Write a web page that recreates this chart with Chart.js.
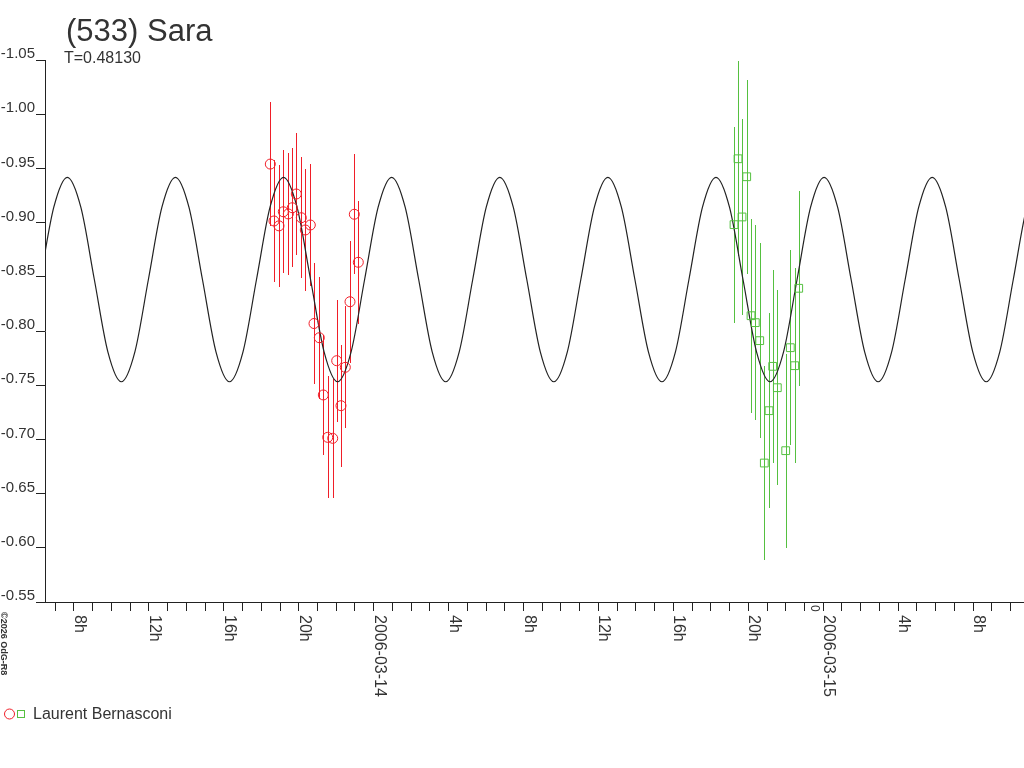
<!DOCTYPE html>
<html>
<head>
<meta charset="utf-8">
<title>(533) Sara</title>
<script src="https://cdn.jsdelivr.net/npm/chart.js@4.4.1/dist/chart.umd.min.js"></script>
<style>
  body { margin: 0; background: #fff; }
  #wrap { width: 1024px; height: 768px; }
</style>
</head>
<body>
<div id="wrap"><canvas id="myChart" width="1024" height="768"></canvas></div>
<script>
// hours counted from 2006-03-13 00:00
const title = "(533) Sara";
const subtitle = "T=0.48130";
const observer = "Laurent Bernasconi";
const copyright = "\u00a92026 OdG-R8";

const yTicks = [-1.05, -1.0, -0.95, -0.9, -0.85, -0.8, -0.75, -0.7, -0.65, -0.6, -0.55];
const majorHours = [8, 12, 16, 20, 24, 28, 32, 36, 40, 44, 48, 52, 56];
const hourLabels = ["8h", "12h", "16h", "20h", "2006-03-14", "4h", "8h", "12h", "16h", "20h", "2006-03-15", "4h", "8h"];

const redHours = [18.481, 18.678, 18.945, 19.175, 19.442, 19.655, 19.869, 20.136, 20.35, 20.617, 20.814,
  21.097, 21.311, 21.546, 21.812, 22.026, 22.255, 22.485, 22.736, 22.966, 23.179];
const redMags = [-0.954, -0.9015, -0.897, -0.91, -0.908, -0.9137, -0.9264, -0.9045, -0.8932, -0.8978, -0.8069,
  -0.7938, -0.741, -0.7019, -0.701, -0.7726, -0.7311, -0.7665, -0.827, -0.9077, -0.8634];
const redErr = [0.057, 0.0566, 0.0563, 0.0567, 0.0563, 0.0551, 0.0561, 0.056, 0.0561, 0.056, 0.0561,
  0.0563, 0.0554, 0.0563, 0.055, 0.0561, 0.0563, 0.0562, 0.0563, 0.0554, 0.0566];

const greenHours = [43.238, 43.452, 43.665, 43.916, 44.146, 44.375, 44.61, 44.856, 45.107, 45.304,
  45.55, 45.998, 46.244, 46.479, 46.692];
const greenMags = [-0.8981, -0.9589, -0.9052, -0.9423, -0.8141, -0.8077, -0.7911, -0.6782, -0.7265, -0.7674,
  -0.7477, -0.6896, -0.7846, -0.768, -0.8394];
const greenErr = [0.0904, 0.0901, 0.0904, 0.0895, 0.0896, 0.0901, 0.09, 0.0895, 0.0899, 0.0892,
  0.0899, 0.0895, 0.0898, 0.0897, 0.0901];

// fitted lightcurve
const curveHours = [6.2, 6.922,
  7.643, 8.365, 9.086, 9.808, 10.529, 11.251, 11.972, 12.694,
  13.415, 14.137, 14.858, 15.58, 16.301, 17.023, 17.744, 18.466,
  19.187, 19.909, 20.63, 21.352, 22.073, 22.795, 23.516, 24.238,
  24.959, 25.681, 26.402, 27.124, 27.845, 28.567, 29.288, 30.01,
  30.731, 31.453, 32.174, 32.896, 33.617, 34.339, 35.06, 35.782,
  36.503, 37.225, 37.946, 38.668, 39.389, 40.111, 40.832, 41.554,
  42.275, 42.997, 43.718, 44.44, 45.161, 45.883, 46.604, 47.326,
  48.047, 48.769, 49.49, 50.212, 50.933, 51.655, 52.376, 53.098,
  53.819, 54.541, 55.262, 55.984, 56.705, 57.427, 58.148, 58.87,
  59.591];
const curveMags = [-0.8475, -0.9142,
  -0.9418, -0.9142, -0.8475, -0.7808, -0.7532, -0.7808, -0.8475, -0.9142,
  -0.9418, -0.9142, -0.8475, -0.7808, -0.7532, -0.7808, -0.8475, -0.9142,
  -0.9418, -0.9142, -0.8475, -0.7808, -0.7532, -0.7808, -0.8475, -0.9142,
  -0.9418, -0.9142, -0.8475, -0.7808, -0.7532, -0.7808, -0.8475, -0.9142,
  -0.9418, -0.9142, -0.8475, -0.7808, -0.7532, -0.7808, -0.8475, -0.9142,
  -0.9418, -0.9142, -0.8475, -0.7808, -0.7532, -0.7808, -0.8475, -0.9142,
  -0.9418, -0.9142, -0.8475, -0.7808, -0.7532, -0.7808, -0.8475, -0.9142,
  -0.9418, -0.9142, -0.8475, -0.7808, -0.7532, -0.7808, -0.8475, -0.9142,
  -0.9418, -0.9142, -0.8475, -0.7808, -0.7532, -0.7808, -0.8475, -0.9142,
  -0.9418];

const fontName = "'Liberation Sans', Arial, sans-serif";
const textColor = "#333";
const axisColor = "#222";
const redColor = "#f01e28";
const greenColor = "#55c040";

const minorHours = [];
for (let h = 7; h <= 58; h++) minorHours.push(h);

const toPoints = (xs, ys) => xs.map((x, i) => ({ x: x, y: ys[i] }));

const drawBars = (chart, xs, ys, errs, color) => {
  const { ctx, scales } = chart;
  ctx.strokeStyle = color;
  ctx.lineWidth = 1;
  for (let i = 0; i < xs.length; i++) {
    const px = Math.round(scales.x.getPixelForValue(xs[i])) + 0.5;
    ctx.beginPath();
    ctx.moveTo(px, Math.round(scales.y.getPixelForValue(ys[i] - errs[i])));
    ctx.lineTo(px, Math.round(scales.y.getPixelForValue(ys[i] + errs[i])));
    ctx.stroke();
  }
};

const errorBars = {
  id: "errorBars",
  beforeDatasetsDraw(chart) {
    const { ctx, chartArea } = chart;
    ctx.save();
    ctx.beginPath();
    ctx.rect(chartArea.left, chartArea.top, chartArea.right - chartArea.left, chartArea.bottom - chartArea.top);
    ctx.clip();
    drawBars(chart, redHours, redMags, redErr, redColor);
    drawBars(chart, greenHours, greenMags, greenErr, greenColor);
    ctx.restore();
  },
};

const decorations = {
  id: "decorations",
  afterDraw(chart) {
    const { ctx, chartArea, scales } = chart;
    ctx.save();
    ctx.fillStyle = textColor;
    ctx.textAlign = "left";
    ctx.textBaseline = "alphabetic";

    ctx.font = "31px " + fontName;
    ctx.fillText(title, 66, 41);
    ctx.font = "16px " + fontName;
    ctx.fillText(subtitle, 64, 63);

    // hour labels, turned to read downwards
    for (let i = 0; i < majorHours.length; i++) {
      const px = Math.round(scales.x.getPixelForValue(majorHours[i]));
      ctx.save();
      ctx.translate(px + 1, chartArea.bottom + 13);
      ctx.rotate(Math.PI / 2);
      ctx.fillText(hourLabels[i], 0, 0);
      ctx.restore();
    }

    ctx.save();
    ctx.font = "12px " + fontName;
    ctx.translate(811, 605);
    ctx.rotate(Math.PI / 2);
    ctx.fillText("0", 0, 0);
    ctx.restore();

    ctx.save();
    ctx.font = "bold 9px " + fontName;
    ctx.translate(1, 612);
    ctx.rotate(Math.PI / 2);
    ctx.fillText(copyright, 0, 0);
    ctx.restore();

    // legend
    ctx.lineWidth = 1;
    ctx.strokeStyle = redColor;
    ctx.beginPath();
    ctx.arc(9.5, 714, 5, 0, Math.PI * 2);
    ctx.stroke();
    ctx.strokeStyle = greenColor;
    ctx.strokeRect(17.5, 710.5, 7, 7);
    ctx.font = "16px " + fontName;
    ctx.fillText(observer, 33, 719);
    ctx.restore();
  },
};

new Chart(document.getElementById("myChart").getContext("2d"), {
  type: "scatter",
  data: {
    datasets: [
      {
        label: observer,
        data: toPoints(redHours, redMags),
        pointStyle: "circle",
        pointRadius: 5,
        pointBorderWidth: 1,
        pointBorderColor: redColor,
        pointBackgroundColor: "rgba(0,0,0,0)",
      },
      {
        label: observer,
        data: toPoints(greenHours, greenMags),
        pointStyle: "rect",
        pointRadius: 5.5,
        pointBorderWidth: 1,
        pointBorderColor: greenColor,
        pointBackgroundColor: "rgba(0,0,0,0)",
      },
      {
        label: "fit",
        data: toPoints(curveHours, curveMags),
        showLine: true,
        borderColor: axisColor,
        borderWidth: 1.2,
        pointRadius: 0,
        cubicInterpolationMode: "monotone",
        capBezierPoints: false,
      },
    ],
  },
  options: {
    responsive: false,
    animation: false,
    devicePixelRatio: 1,
    layout: { autoPadding: false, padding: { top: 60, left: 0, right: 0, bottom: 0 } },
    plugins: {
      legend: { display: false },
      tooltip: { enabled: false },
      title: { display: false },
    },
    scales: {
      x: {
        type: "linear",
        position: "bottom",
        min: 6.452,
        max: 58.72,
        afterBuildTicks: (scale) => {
          scale.ticks = minorHours.map((v) => ({ value: v }));
        },
        afterFit: (scale) => {
          scale.height = 166;
        },
        ticks: { display: false },
        grid: {
          drawOnChartArea: false,
          drawTicks: true,
          tickLength: 9,
          tickColor: axisColor,
        },
        border: { display: true, color: axisColor, width: 1 },
      },
      y: {
        type: "linear",
        position: "left",
        reverse: true,
        min: -1.05,
        max: -0.55,
        afterBuildTicks: (scale) => {
          scale.ticks = yTicks.map((v) => ({ value: v }));
        },
        afterFit: (scale) => {
          scale.width = 45;
        },
        ticks: {
          padding: 1,
          labelOffset: -6,
          color: textColor,
          font: { family: fontName, size: 15 },
          callback: (v) => Number(v).toFixed(2),
        },
        grid: {
          drawOnChartArea: false,
          drawTicks: true,
          tickLength: 9,
          tickColor: axisColor,
        },
        border: { display: true, color: axisColor, width: 1 },
      },
    },
  },
  plugins: [errorBars, decorations],
});
</script>
</body>
</html>
